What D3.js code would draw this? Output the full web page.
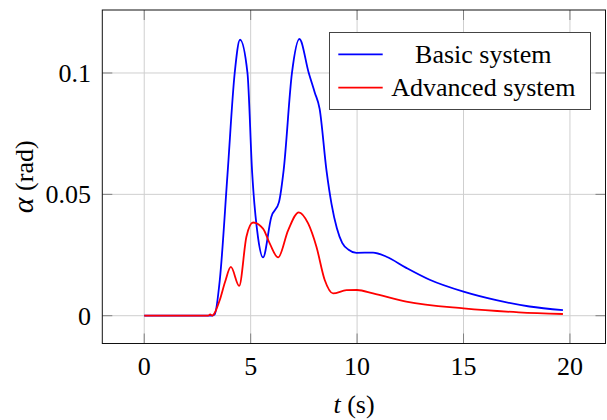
<!DOCTYPE html>
<html>
<head>
<meta charset="utf-8">
<script src="https://cdn.jsdelivr.net/npm/d3@7"></script>
<style>
  body { margin: 0; background: #fff; }
  svg text { font-family: "Liberation Serif", "DejaVu Serif", serif; }
</style>
</head>
<body>
<svg id="grafico" width="607" height="420"></svg>
<script>
// Datos
var seriesNames = ["Basic system", "Advanced system"];
var seriesColors = ["#0000ff", "#ff0000"];

var basicT = [0, 3.2, 3.31, 3.55, 3.91, 4.25, 4.5, 4.85, 5.07, 5.35, 5.58, 5.97, 6.33, 6.55, 6.94, 7.29, 7.73, 8.01, 8.24, 8.56, 8.8, 9.05, 9.3, 9.6, 9.97, 10.75, 11.38, 12.31, 13.41, 15, 16.54, 18.1, 19.67];
var basicAlpha = [0, 0, 0.0005, 0.0147, 0.058, 0.1, 0.1137, 0.1, 0.059, 0.032, 0.024, 0.0407, 0.0468, 0.06, 0.1, 0.114, 0.1, 0.092, 0.0852, 0.06, 0.046, 0.036, 0.030, 0.0272, 0.0259, 0.026, 0.0243, 0.0197, 0.0148, 0.0099, 0.0064, 0.0038, 0.0023];

var advancedT = [0, 3.0, 3.1, 3.2, 3.3, 3.55, 3.8, 4.07, 4.46, 4.8, 5.11, 5.58, 5.9, 6.29, 6.76, 7.26, 7.7, 8.09, 8.48, 8.87, 9.5, 10.0, 10.75, 12.31, 15, 17.6, 19.67];
var advancedAlpha = [0, 0, 0.0005, 0, 0.001, 0.0065, 0.014, 0.0201, 0.0123, 0.0325, 0.0384, 0.0359, 0.0297, 0.024, 0.0352, 0.0426, 0.038, 0.0284, 0.0147, 0.0092, 0.0105, 0.0106, 0.0092, 0.0058, 0.003, 0.0014, 0.0007];

var xTicks = [0, 5, 10, 15, 20];
var yTicks = [0, 0.05, 0.1];
var yTickLabels = ["0", "0.05", "0.1"];

var anchura = 607,
    altura = 420,
    izq = 102.3, der = 605.5, arriba = 10, abajo = 343.5;

var svg = d3.select("#grafico");

var x = d3.scaleLinear().domain([-1.97, 21.67]).range([izq, der]);
var y = d3.scaleLinear().domain([-0.01145, 0.12595]).range([abajo, arriba]);

// Rejilla
svg.append("g").selectAll("line")
    .data(xTicks)
    .join("line")
    .attr("x1", function (d) { return x(d); })
    .attr("x2", function (d) { return x(d); })
    .attr("y1", arriba).attr("y2", abajo)
    .style("stroke", "#cfcfcf").style("stroke-width", 1);
svg.append("g").selectAll("line")
    .data(yTicks)
    .join("line")
    .attr("y1", function (d) { return y(d); })
    .attr("y2", function (d) { return y(d); })
    .attr("x1", izq).attr("x2", der)
    .style("stroke", "#cfcfcf").style("stroke-width", 1);

// Marcas de los ejes (hacia dentro, en los cuatro lados)
var largo = 10;
var marcas = svg.append("g").style("stroke", "#808080").style("stroke-width", 1);
xTicks.forEach(function (d) {
    marcas.append("line").attr("x1", x(d)).attr("x2", x(d)).attr("y1", abajo).attr("y2", abajo - largo);
    marcas.append("line").attr("x1", x(d)).attr("x2", x(d)).attr("y1", arriba).attr("y2", arriba + largo);
});
yTicks.forEach(function (d) {
    marcas.append("line").attr("y1", y(d)).attr("y2", y(d)).attr("x1", izq).attr("x2", izq + largo);
    marcas.append("line").attr("y1", y(d)).attr("y2", y(d)).attr("x1", der).attr("x2", der - largo);
});

// Curvas
var linea = d3.line()
    .x(function (d) { return x(d[0]); })
    .y(function (d) { return y(d[1]); })
    .curve(d3.curveMonotoneX);

var datos = [d3.zip(basicT, basicAlpha), d3.zip(advancedT, advancedAlpha)];
svg.append("g").selectAll("path")
    .data(datos)
    .join("path")
    .attr("d", linea)
    .style("fill", "none")
    .style("stroke", function (d, i) { return seriesColors[i]; })
    .style("stroke-width", 1.8)
    .style("stroke-linejoin", "round");

// Marco
svg.append("rect")
    .attr("x", izq).attr("y", arriba)
    .attr("width", der - izq).attr("height", abajo - arriba)
    .style("fill", "none").style("stroke", "#111").style("stroke-width", 1);

// Etiquetas de las marcas
svg.append("g").selectAll("text")
    .data(xTicks)
    .join("text")
    .attr("x", function (d) { return x(d); })
    .attr("y", 374.5)
    .attr("text-anchor", "middle")
    .style("font-size", "26px")
    .text(function (d) { return d; });
svg.append("g").selectAll("text")
    .data(yTicks)
    .join("text")
    .attr("x", 91)
    .attr("y", function (d) { return y(d) + 9; })
    .attr("text-anchor", "end")
    .style("font-size", "26px")
    .text(function (d, i) { return yTickLabels[i]; });

// Titulos de los ejes
var tx = svg.append("text")
    .attr("x", 354).attr("y", 413)
    .attr("text-anchor", "middle")
    .style("font-size", "26px");
tx.append("tspan").style("font-style", "italic").text("t");
tx.append("tspan").text(" (s)");

var ty = svg.append("text")
    .attr("transform", "translate(33," + ((arriba + abajo) / 2) + ") rotate(-90)")
    .attr("text-anchor", "middle")
    .style("font-size", "26px");
ty.append("tspan").style("font-style", "italic").style("font-size", "30px").text("α");
ty.append("tspan").text(" (rad)");

// Leyenda
var leyenda = svg.append("g");
leyenda.append("rect")
    .attr("x", 329.5).attr("y", 32.5)
    .attr("width", 261).attr("height", 77)
    .style("fill", "#fff").style("stroke", "#444").style("stroke-width", 1);
seriesNames.forEach(function (nombre, i) {
    var yy = 54.3 + i * 33.4;
    leyenda.append("line")
        .attr("x1", 338.3).attr("x2", 382.7)
        .attr("y1", yy).attr("y2", yy)
        .style("stroke", seriesColors[i]).style("stroke-width", 1.8);
    leyenda.append("text")
        .attr("x", 483.3).attr("y", yy + 8.6)
        .attr("text-anchor", "middle")
        .style("font-size", "26px")
        .text(nombre);
});
</script>
</body>
</html>
